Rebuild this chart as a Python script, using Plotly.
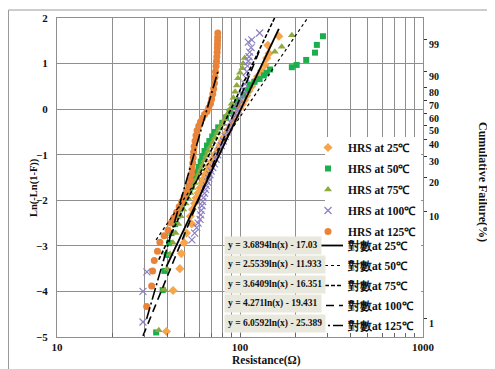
import numpy as np
import plotly.graph_objects as go

# ---------------- data ----------------
temps = ["25", "50", "75", "100", "125"]

x25 = [39.6, 43.1, 46.9, 47.8, 49.5, 51.0, 54.5, 53.5, 55.0, 56.5, 57.5, 59.0, 60.5, 62.0, 63.5, 65.0,
       66.5, 68.0, 70.0, 72.0, 74.0, 76.0, 78.0, 80.0, 82.0, 84.5, 87.0, 89.5, 92.0, 94.5, 97.0, 100,
       103, 106, 109, 112, 116, 120, 125, 131, 137, 140, 144, 142, 163]
y25 = [-4.88, -3.98, -3.50, -3.17, -2.93, -2.72, -2.52, -2.35, -2.20, -2.07, -1.95, -1.84, -1.73, -1.62,
       -1.52, -1.42, -1.33, -1.24, -1.15, -1.06, -0.97, -0.88, -0.79, -0.70, -0.61, -0.52, -0.43, -0.34,
       -0.25, -0.16, -0.07, 0.02, 0.11, 0.20, 0.30, 0.40, 0.50, 0.61, 0.72, 0.84, 0.97, 1.12, 1.22, 1.40, 1.60]

x50 = [34.8, 37.8, 38.6, 39.7, 41.0, 42.2, 44.2, 45.5, 47, 48.5, 50, 51.5, 53.2, 55, 56.5, 58, 59.5, 61,
       62.6, 64, 66, 68, 70.5, 73, 76, 80, 84, 88, 92, 97, 104, 110, 113, 120, 128, 135, 140, 146,
       192, 204, 230, 257, 263, 284]
y50 = [-4.90, -3.97, -3.55, -3.20, -2.94, -2.72, -2.52, -2.35, -2.20, -2.07, -1.95, -1.84, -1.74, -1.62,
       -1.50, -1.38, -1.27, -1.15, -1.03, -0.92, -0.80, -0.70, -0.60, -0.50, -0.40, -0.30, -0.18, -0.05,
       0.06, 0.18, 0.31, 0.42, 0.53, 0.60, 0.66, 0.74, 0.80, 0.87, 0.92, 0.97, 1.08, 1.24, 1.41, 1.60]

x75 = [36, 38.5, 40, 41.5, 43, 44.5, 46, 47.5, 49, 50.5, 52, 53.5, 55, 56.5, 58, 59.5, 61, 62.5, 64,
       65.5, 67, 69, 71, 73, 75, 77.5, 80, 82.5, 85, 88, 90, 92, 94, 96, 97.5, 100, 103, 104, 106,
       155, 169, 192]
y75 = [-4.85, -3.95, -3.50, -3.18, -2.93, -2.72, -2.52, -2.35, -2.20, -2.07, -1.95, -1.84, -1.73, -1.62,
       -1.52, -1.42, -1.32, -1.22, -1.12, -1.02, -0.92, -0.82, -0.72, -0.62, -0.52, -0.42, -0.32, -0.22,
       -0.12, 0.00, 0.12, 0.25, 0.38, 0.52, 0.68, 0.80, 0.90, 1.00, 1.12, 1.26, 1.37, 1.62]

x100 = [29.5, 29.5, 31, 54.6, 56.5, 58, 59, 60.5, 61, 61.5, 62, 62.5, 63.2, 64, 64.8, 65.5, 66.5, 67.5,
        68.5, 69.5, 71, 72.5, 74, 75.5, 77, 79, 81, 83, 85, 87, 89, 91.5, 94, 96.5, 99, 101, 103, 105,
        106.5, 108, 109, 110, 111, 112, 113, 115, 111, 116, 128]
y100 = [-4.67, -4.00, -3.57, -2.87, -2.72, -2.60, -2.50, -2.42, -2.32, -2.22, -2.12, -2.03, -1.94, -1.85,
        -1.76, -1.68, -1.60, -1.52, -1.44, -1.36, -1.28, -1.20, -1.10, -1.00, -0.90, -0.80, -0.70, -0.60,
        -0.50, -0.40, -0.30, -0.20, -0.10, 0.00, 0.10, 0.20, 0.30, 0.42, 0.55, 0.68, 0.82, 0.95, 1.05,
        1.15, 1.25, 1.35, 1.47, 1.52, 1.67]

x125 = [30.9, 32.9, 33.3, 34.0, 35.4, 36.5, 38.5, 40.4, 42, 43.5, 45, 46.5, 48, 49.5, 51, 52.5, 53.5,
        54.3, 54.8, 55.2, 55.5, 55.8, 56.2, 56.8, 57.5, 58.3, 59.5, 60.8, 62.3, 64, 66, 67.5, 69, 70, 71,
        71.8, 72.5, 73, 73.5, 74, 74.4, 74.7, 75, 75.2, 75.3, 75.4, 75.5, 75.6]
y125 = [-4.33, -3.88, -3.55, -3.32, -3.12, -2.92, -2.78, -2.65, -2.50, -2.38, -2.26, -2.14, -2.03, -1.92,
        -1.80, -1.68, -1.55, -1.42, -1.30, -1.18, -1.06, -0.94, -0.82, -0.70, -0.58, -0.47, -0.37, -0.28,
        -0.20, -0.12, -0.05, 0.03, 0.12, 0.22, 0.33, 0.45, 0.57, 0.70, 0.82, 0.94, 1.05, 1.15, 1.25,
        1.34, 1.42, 1.50, 1.58, 1.67]

# logarithmic trendline coefficients (y = a ln(x) + b)
slopes = [3.6894, 2.5539, 3.6409, 4.271, 6.0592]
intercepts = [-17.03, -11.933, -16.351, -19.431, -25.389]

right_pct = [99, 90, 80, 70, 60, 50, 40, 30, 20, 10, 1]
left_ticks = [2, 1, 0, -1, -2, -3, -4, -5]
x_major = [10, 100, 1000]
x_minor = [20, 30, 40, 50, 60, 70, 80, 90, 200, 300, 400, 500, 600, 700, 800, 900]

# ---------------- styles ----------------
xs = [x25, x50, x75, x100, x125]
ys = [y25, y50, y75, y100, y125]
colors = ["#f7a54b", "#1cae4c", "#8eaa3f", "#8b7fbf", "#e8843a"]
symbols = ["diamond", "square", "triangle-up", "x-thin", "circle"]
sizes = [7, 6, 7, 7, 7]
dashes = ["solid", "dot", "4px,2px", "8px,5px", "12px,3px,2px,3px"]
widths = [1.8, 1.2, 1.6, 1.6, 1.6]

SERIF = "Liberation Serif, Times New Roman, serif"
OFF = 8                       # page body margin
W, H = 495 - OFF, 369 - OFF
PL, PT, PR, PB = 57, 18, 423, 337   # plot area in page pixels
L, T = PL - OFF, PT - OFF
R, B = W - (PR - OFF), H - (PB - OFF)
PW, PH = PR - PL, PB - PT


def px(xp):
    return (xp - PL) / PW


def py(yp):
    return 1 - (yp - PT) / PH


fig = go.Figure()

for i, t in enumerate(temps):
    mk = dict(color=colors[i], size=sizes[i], symbol=symbols[i], line=dict(width=0))
    if symbols[i] == "x-thin":
        mk["line"] = dict(width=1.2, color=colors[i])
    fig.add_trace(go.Scatter(x=xs[i], y=ys[i], mode="markers", marker=mk,
                             name=f"HRS at {t}℃", legendgroup=f"m{t}", legend="legend"))

for i, t in enumerate(temps):
    xl = np.geomspace(min(xs[i]), max(xs[i]), 80)
    yl = slopes[i] * np.log(xl) + intercepts[i]
    fig.add_trace(go.Scatter(x=xl, y=yl, mode="lines",
                             line=dict(color="black", width=widths[i], dash=dashes[i]),
                             name=f"對數at {t}℃", legendgroup=f"l{t}", legend="legend2"))

# invisible trace for the right axis
fig.add_trace(go.Scatter(x=[10], y=[0], yaxis="y2", mode="markers",
                         marker=dict(opacity=0), showlegend=False, hoverinfo="skip"))

right_vals = [float(np.log(-np.log(1 - p / 100.0))) for p in right_pct]

grid = "#8f8f8f"
legfont = dict(size=11.5, family=SERIF, weight="bold", color="#111")
fig.update_layout(
    width=W, height=H,
    margin=dict(l=L, r=R, t=T, b=B, autoexpand=False),
    paper_bgcolor="white", plot_bgcolor="white",
    font=dict(family=SERIF, color="#111"),
    xaxis=dict(type="log", range=[1, 3], tickvals=x_major, ticktext=[str(v) for v in x_major],
               showgrid=True, gridcolor=grid, gridwidth=1, ticks="inside", ticklen=4,
               tickcolor="#666", showline=True, linecolor=grid, mirror=True,
               tickfont=dict(size=11, family=SERIF, weight="bold"),
               ticklabelstandoff=0,
               minor=dict(tickvals=x_minor, showgrid=True, gridcolor=grid, gridwidth=1,
                          ticks="inside", ticklen=4, tickcolor="#666"),
               zeroline=False),
    yaxis=dict(range=[-5, 2], tickvals=left_ticks, showgrid=True, gridcolor=grid, gridwidth=1,
               showline=True, linecolor=grid, ticks="", zeroline=False,
               tickfont=dict(size=11, family=SERIF, weight="bold"), ticklabelstandoff=6),
    yaxis2=dict(range=[-5, 2], overlaying="y", side="right", tickvals=right_vals,
                ticktext=[str(p) for p in right_pct], showgrid=False, zeroline=False,
                showline=True, linecolor=grid, ticks="outside", ticklen=3, tickcolor="#333",
                tickfont=dict(size=10, family=SERIF, weight="bold"), ticklabelshift=5,
                ticklabelstandoff=0),
    legend=dict(x=px(308), y=py(133), xanchor="left", yanchor="top",
                bgcolor="rgba(0,0,0,0)", font=legfont, tracegroupgap=2, itemwidth=30),
    legend2=dict(x=px(308), y=py(231), xanchor="left", yanchor="top",
                 bgcolor="rgba(0,0,0,0)", font=legfont, tracegroupgap=1, itemwidth=30),
    showlegend=True,
)

# white area behind the legend and outer frame
fig.add_shape(type="rect", xref="paper", yref="paper", x0=px(325), x1=px(421), y0=py(333), y1=py(137),
              fillcolor="white", line=dict(width=0), layer="above")
fig.add_shape(type="line", xref="paper", yref="paper", x0=px(8.5), x1=px(495), y0=py(10), y1=py(10),
              line=dict(color="#9a9a9a", width=1))
fig.add_shape(type="line", xref="paper", yref="paper", x0=px(8.5), x1=px(8.5), y0=py(10), y1=py(369),
              line=dict(color="#9a9a9a", width=1))

rows = [245, 264.5, 284, 303.5, 323]
for i in range(5):
    fig.add_annotation(xref="paper", yref="paper", x=px(224), y=py(rows[i]), xanchor="left",
                       yanchor="middle", showarrow=False,
                       text=f"y = {slopes[i]}ln(x) - {-intercepts[i]}",
                       font=dict(size=9.5, family=SERIF, weight="bold", color="#111"),
                       bgcolor="#e9e8dc", borderpad=3)

fig.add_annotation(xref="paper", yref="paper", x=px(266), y=py(368), xanchor="center", yanchor="bottom",
                   showarrow=False, text="Resistance(Ω)", borderpad=0,
                   font=dict(size=11.5, family=SERIF, weight="bold", color="#111"))
fig.add_annotation(xref="paper", yref="paper", x=px(34), y=py(188), xanchor="center", yanchor="middle",
                   showarrow=False, textangle=-90, text="Ln(-Ln(1-F))",
                   font=dict(size=10.5, family=SERIF, weight="bold", color="#111"))
fig.add_annotation(xref="paper", yref="paper", x=px(483), y=py(182), xanchor="center", yanchor="middle",
                   showarrow=False, textangle=90, text="Cumulative Failure(%)",
                   font=dict(size=12, family=SERIF, weight="bold", color="#111"))

fig.write_html("out.html")
